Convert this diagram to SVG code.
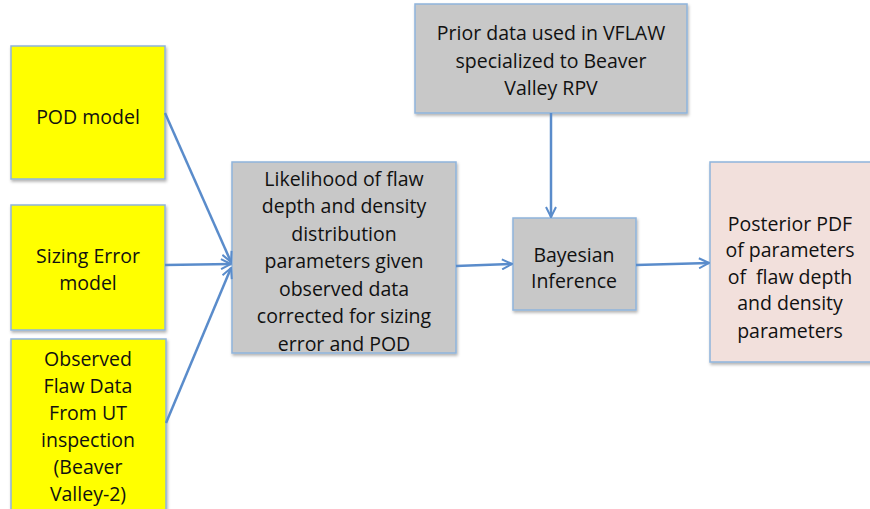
<svg xmlns="http://www.w3.org/2000/svg" width="870" height="509" viewBox="0 0 870 509">
<defs>
<filter id="sh" x="-10%" y="-10%" width="120%" height="120%">
<feDropShadow dx="1" dy="2" stdDeviation="1.5" flood-color="#000" flood-opacity="0.3"/>
</filter>
<marker id="ah" viewBox="0 0 12 12" refX="11" refY="6" markerWidth="12" markerHeight="12" markerUnits="userSpaceOnUse" orient="auto">
<path d="M1,1 L11,6 L1,11" fill="none" stroke="#5a8ccb" stroke-width="2"/>
</marker>
<style>
.box{stroke:#8fb4dc;stroke-width:1.5;filter:url(#sh)}
.y{fill:#ffff00}
.g{fill:#c8c8c8}
.p{fill:#f2e0dc}
text{font-family:"Open Sans","Liberation Sans",sans-serif;font-size:19.5px;fill:#111;text-anchor:middle;dominant-baseline:central;white-space:pre}
.c{fill:none;stroke:#5a8ccb;stroke-width:2.5;marker-end:url(#ah)}
</style>
</defs>
<rect width="870" height="509" fill="#fff"/>
<g id="pod"><rect class="box y" x="11" y="46" width="154" height="133"/><text x="88" y="116">POD model</text></g>
<g id="sizing"><rect class="box y" x="11" y="205" width="154" height="125"/><text x="88" y="255">Sizing Error</text><text x="88" y="282">model</text></g>
<g id="observed"><rect class="box y" x="11" y="339" width="155" height="175"/>
<text x="88" y="358">Observed</text><text x="88" y="385">Flaw Data</text><text x="88" y="412">From UT</text><text x="88" y="439">inspection</text><text x="88" y="466">(Beaver</text><text x="88" y="493">Valley-2)</text></g>
<g id="likelihood"><rect class="box g" x="232" y="162" width="224" height="191"/>
<text x="344" y="178">Likelihood of flaw</text><text x="344" y="205">depth and density</text><text x="344" y="233">distribution</text><text x="344" y="260">parameters given</text><text x="344" y="288">observed data</text><text x="344" y="315">corrected for sizing</text><text x="344" y="343">error and POD</text></g>
<g id="prior"><rect class="box g" x="415" y="4" width="272" height="109"/>
<text x="551" y="32">Prior data used in VFLAW</text><text x="551" y="60">specialized to Beaver</text><text x="551" y="87">Valley RPV</text></g>
<g id="bayes"><rect class="box g" x="513" y="218" width="123" height="92"/><text x="574" y="254">Bayesian</text><text x="574" y="280">Inference</text></g>
<g id="posterior"><rect class="box p" x="710" y="162" width="162" height="200"/>
<text x="790" y="223">Posterior PDF</text><text x="790" y="249">of parameters</text><text x="790" y="276" xml:space="preserve">of  flaw depth</text><text x="790" y="302">and density</text><text x="790" y="330">parameters</text></g>
<g id="connectors">
<line class="c" x1="165" y1="113" x2="231" y2="262"/>
<line class="c" x1="165" y1="265" x2="231" y2="264"/>
<line class="c" x1="166" y1="423" x2="231" y2="268"/>
<line class="c" x1="456" y1="266" x2="512" y2="264"/>
<line class="c" x1="551" y1="113" x2="551" y2="217"/>
<line class="c" x1="636" y1="265" x2="709" y2="263"/>
</g>
</svg>
